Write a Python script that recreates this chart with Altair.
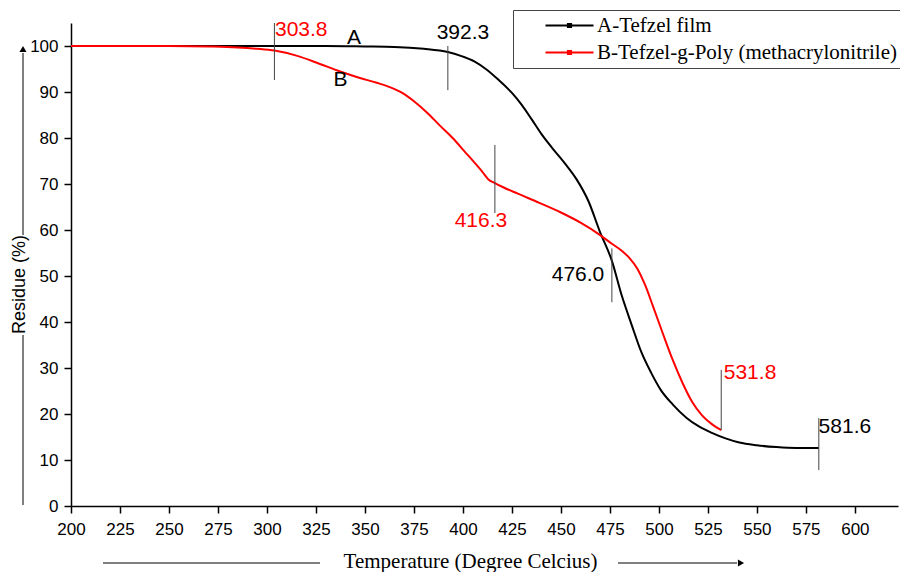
import altair as alt
import pandas as pd

# ---- data ----
a_temp = [200, 250, 300, 330, 350, 365, 380, 392.3, 400, 406, 412, 418, 425, 430, 435,
          440, 446, 452, 458, 464, 470, 476, 481, 486, 491, 496, 501, 507, 514, 520,
          527, 534, 541, 550, 560, 570, 581.6]
a_res = [100, 100, 100, 100, 99.9, 99.8, 99.4, 98.7, 97.7, 96.6, 94.9, 92.7, 89.8, 87.2, 84.1,
         80.9, 77.6, 74.5, 71.0, 66.3, 59.5, 53.3, 45.8, 39.5, 33.5, 29.0, 25.2, 22.1, 19.2, 17.4,
         15.9, 14.7, 13.8, 13.2, 12.8, 12.6, 12.6]

b_temp = [200, 250, 270, 285, 295, 303.8, 315, 327, 337, 347, 356, 363, 369, 375, 382,
          388, 395, 401, 406, 410, 413, 416.3, 420, 428, 439, 450, 460, 470, 476, 481,
          485, 489, 493, 497, 502, 507, 512, 517, 522, 527, 531.8]
b_res = [100, 100, 99.9, 99.7, 99.4, 99.0, 97.9, 96.1, 94.5, 93.1, 92.0, 91.0, 89.8, 88.0, 85.4,
         82.8, 79.9, 77.0, 74.6, 72.6, 71.0, 70.2, 69.4, 67.9, 65.9, 63.8, 61.6, 58.9, 57.0, 55.5,
         53.9, 51.6, 48.0, 43.4, 37.5, 31.8, 26.8, 22.6, 19.7, 17.8, 16.5]

series_names = ["A-Tefzel film", "B-Tefzel-g-Poly (methacrylonitrile)"]
series_colors = ["#000000", "#ff0000"]

# marker lines (temperature, lower / upper residue)
mark_x = [303.8, 392.3, 416.3, 476.0, 531.8, 581.6]
mark_y1 = [92.6, 90.4, 63.7, 44.3, 16.5, 7.8]
mark_y2 = [105.0, 100.0, 78.5, 56.0, 29.6, 19.1]

# annotation texts
lab_text = ["303.8", "A", "B", "392.3", "416.3", "476.0", "531.8", "581.6"]
lab_x = [317.5, 344.4, 337.5, 400.0, 409.2, 458.7, 546.5, 594.9]
lab_y = [103.5, 101.8, 92.6, 102.9, 62.0, 50.2, 28.9, 17.1]
lab_col = ["#ff0000", "#000000", "#000000", "#000000", "#ff0000", "#000000", "#ff0000", "#000000"]

x_ticks = [200 + 12.5 * i for i in range(34)]
y_ticks = [5 * i for i in range(22)]

# ---- tables ----
curves = pd.DataFrame({
    "Temperature": a_temp + b_temp,
    "Residue": a_res + b_res,
    "Series": [series_names[0]] * len(a_temp) + [series_names[1]] * len(b_temp),
})
marks = pd.DataFrame({"x": mark_x, "y1": mark_y1, "y2": mark_y2})
labels = pd.DataFrame({"t": lab_text, "x": lab_x, "y": lab_y, "c": lab_col})

SANS = "Liberation Sans"
SERIF = "Liberation Serif"

xscale = alt.Scale(domain=[200, 622], nice=False, zero=False)
yscale = alt.Scale(domain=[0, 105], nice=False, zero=False)

x_axis = alt.Axis(
    values=x_ticks,
    labelExpr="datum.value % 25 === 0 ? datum.label : ''",
    tickSize={"condition": {"test": "datum.value % 25 === 0", "value": 7}, "value": 4},
    grid=False, domainColor="black", tickColor="black", domainWidth=1.5, tickWidth=1.5,
    labelFont=SANS, labelFontSize=17, labelColor="black", labelPadding=8,
    labelFlush=False, labelOverlap=False,
    title="Temperature (Degree Celcius)", titleFont=SERIF, titleFontSize=21,
    titleFontWeight="normal", titleColor="black", titleX=399, titleY=55,
    titleAlign="center", titleBaseline="middle",
)
y_axis = alt.Axis(
    values=y_ticks,
    labelExpr="datum.value % 10 === 0 ? datum.label : ''",
    tickSize={"condition": {"test": "datum.value % 10 === 0", "value": 7}, "value": 4},
    grid=False, domainColor="black", tickColor="black", domainWidth=1.5, tickWidth=1.5,
    labelFont=SANS, labelFontSize=17, labelColor="black", labelPadding=6,
    labelFlush=False, labelOverlap=False,
    title="Residue (%)", titleFont=SANS, titleFontSize=18, titleFontWeight="normal",
    titleColor="black", titleX=-52, titleY=261, titleAngle=270,
    titleAlign="center", titleBaseline="middle",
)

# wide line with a small dot, drawn beyond the nominal symbol box
legend_symbol = "M-3,0H3M-0.2,-0.2H0.2V0.2H-0.2Z"

lines = alt.Chart(curves).mark_line(interpolate="monotone", strokeWidth=2).encode(
    x=alt.X("Temperature:Q", scale=xscale, axis=x_axis),
    y=alt.Y("Residue:Q", scale=yscale, axis=y_axis),
    color=alt.Color(
        "Series:N",
        scale=alt.Scale(domain=series_names, range=series_colors),
        legend=alt.Legend(
            title=None, orient="none", legendX=442, legendY=-13,
            strokeColor="#444444", padding=5, symbolOffset=41,
            symbolType=legend_symbol, symbolSize=256, symbolStrokeWidth=2,
            labelFont=SERIF, labelFontSize=21, labelColor="black", labelOffset=17,
            rowPadding=5, labelLimit=400,
        ),
    ),
    detail="Series:N",
)

ticks = alt.Chart(marks).mark_rule(color="#444444", strokeWidth=1).encode(
    x=alt.X("x:Q", scale=xscale),
    y=alt.Y("y1:Q", scale=yscale),
    y2="y2:Q",
)

texts = alt.Chart(labels).mark_text(
    font=SANS, fontSize=21, align="center", baseline="middle"
).encode(
    x=alt.X("x:Q", scale=xscale),
    y=alt.Y("y:Q", scale=yscale),
    text="t:N",
    color=alt.Color("c:N", scale=None),
)

one = pd.DataFrame({"k": [0]})
deco = []
# x-axis title arrow
deco.append(alt.Chart(one).mark_rule(color="black", strokeWidth=1).encode(
    x=alt.value(32), x2=alt.value(249), y=alt.value(540)))
deco.append(alt.Chart(one).mark_rule(color="black", strokeWidth=1).encode(
    x=alt.value(547), x2=alt.value(666), y=alt.value(540)))
deco.append(alt.Chart(one).mark_point(shape="triangle-right", filled=True, size=50,
                                      color="black", opacity=1).encode(
    x=alt.value(670), y=alt.value(540)))
# y-axis title arrow
deco.append(alt.Chart(one).mark_rule(color="black", strokeWidth=1).encode(
    x=alt.value(-48), y=alt.value(312), y2=alt.value(482)))
deco.append(alt.Chart(one).mark_rule(color="black", strokeWidth=1).encode(
    x=alt.value(-48), y=alt.value(212), y2=alt.value(30)))
deco.append(alt.Chart(one).mark_point(shape="triangle-up", filled=True, size=50,
                                      color="black", opacity=1).encode(
    x=alt.value(-48), y=alt.value(26)))

chart = alt.layer(lines, ticks, texts, *deco).properties(
    width=827, height=483,
    autosize=alt.AutoSizeParams(type="none"),
    padding={"left": 71, "top": 23, "right": 2, "bottom": 66},
    background="white",
).configure_view(stroke=None)

chart.save("out.html", embed_options={"renderer": "svg", "actions": False})
